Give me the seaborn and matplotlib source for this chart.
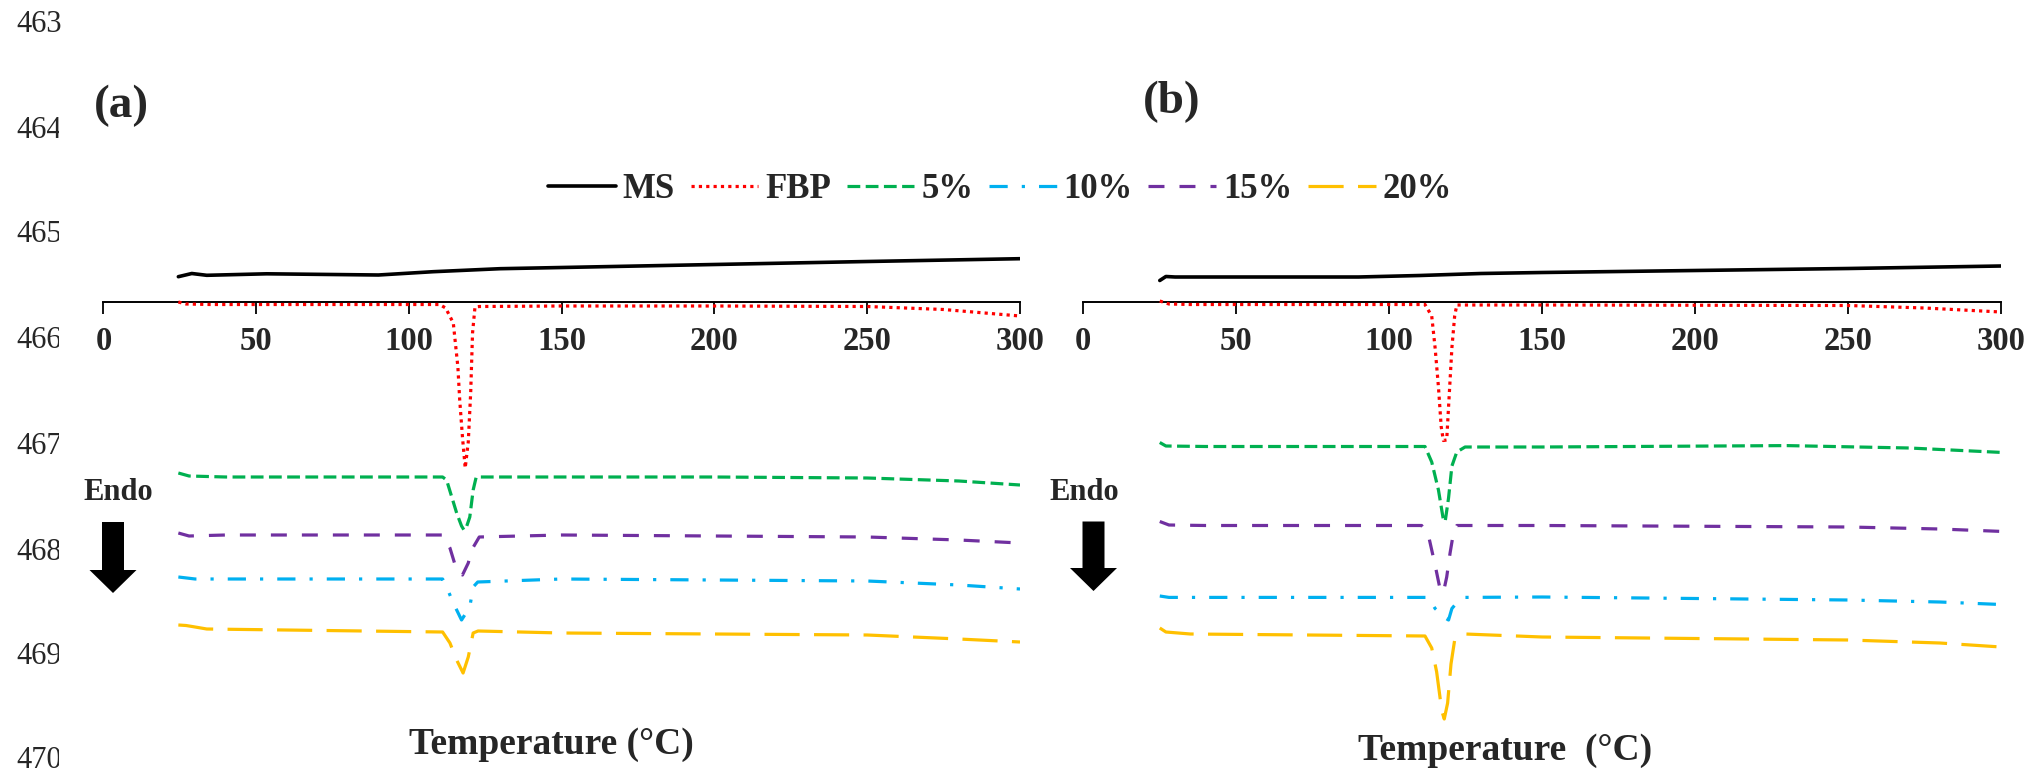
import matplotlib
matplotlib.use("Agg")
import matplotlib.pyplot as plt
import seaborn as sns
from matplotlib.patches import FancyArrow

sns.set_theme(style="white")
plt.rcParams['font.family'] = ['Liberation Serif', 'DejaVu Serif']

# ---------------- data (heat flow, arbitrary offset units) ----------------
SERIES = ["MS", "FBP", "5%", "10%", "15%", "20%"]
COLORS = ["#000000", "#FF0000", "#00B050", "#00B0F0", "#7030A0", "#FFC000"]
XTICKS = [0, 50, 100, 150, 200, 250, 300]
LINE_NUMBERS = ["463", "464", "465", "466", "467", "468", "469", "470"]

# Panel (a)
A_MS_T = [24.5, 28.9, 33.8, 53.4, 90, 107.9, 129.8, 150, 200, 250, 300]
A_MS_V = [0.253, 0.285, 0.267, 0.282, 0.27, 0.303, 0.333, 0.345, 0.375, 0.405, 0.433]
A_FBP_T = [24.5, 27, 35, 60, 100, 110, 112, 114.5, 116, 116.6, 117.5, 118.4,
           119.4, 120.2, 120.8, 121.6, 123, 150, 200, 250, 275, 300]
A_FBP_V = [0.0, -0.02, -0.025, -0.025, -0.025, -0.025, -0.06, -0.21, -0.65, -0.98,
           -1.35, -1.66, -1.4, -0.9, -0.31, -0.05, -0.045, -0.04, -0.04, -0.045, -0.075, -0.14]
A_5_T = [24.5, 28, 40, 111, 112.3, 115.6, 117.2, 118.0, 118.8, 119.9, 121, 122, 125,
         200, 250, 280, 300]
A_5_V = [-1.71, -1.74, -1.75, -1.75, -1.78, -2.11, -2.24, -2.28, -2.25, -2.15, -1.88,
         -1.75, -1.75, -1.75, -1.76, -1.79, -1.83]
A_15_T = [24.5, 28, 40, 111, 113.4, 115.6, 117.5, 119.4, 120.5, 123, 150, 250, 280, 300]
A_15_V = [-2.31, -2.34, -2.33, -2.33, -2.46, -2.68, -2.73, -2.61, -2.48, -2.35, -2.33,
          -2.35, -2.38, -2.41]
A_10_T = [24.5, 30, 111, 112.3, 114.5, 117.2, 119.9, 121, 122.5, 150, 250, 280, 300]
A_10_V = [-2.75, -2.77, -2.77, -2.85, -3.01, -3.18, -3.05, -2.85, -2.80, -2.77, -2.79,
          -2.83, -2.87]
A_20_T = [24.5, 27, 29.4, 33.8, 111, 113.4, 115.6, 117.7, 119.4, 121, 122.6, 150, 250,
          280, 300]
A_20_V = [-3.23, -3.235, -3.247, -3.27, -3.30, -3.41, -3.58, -3.71, -3.55, -3.31, -3.29,
          -3.31, -3.33, -3.37, -3.40]

# Panel (b)
B_MS_T = [25, 27, 30, 50, 90, 110, 130, 150, 200, 250, 300]
B_MS_V = [0.215, 0.255, 0.25, 0.25, 0.25, 0.265, 0.285, 0.295, 0.315, 0.335, 0.36]
B_FBP_T = [25, 28, 35, 111.7, 113.9, 115, 116.1, 117, 117.7, 118.8, 119.4, 120.5,
           121.4, 122.1, 150, 250, 275, 300]
B_FBP_V = [0.01, -0.02, -0.025, -0.025, -0.14, -0.456, -0.85, -1.247, -1.385, -1.38,
           -1.05, -0.456, -0.14, -0.03, -0.03, -0.035, -0.06, -0.10]
B_5_T = [25, 27, 40, 111.7, 113.9, 116.1, 117.7, 118.3, 119.4, 120.5, 122.1, 124.8,
         150, 230, 270, 300]
B_5_V = [-1.405, -1.44, -1.445, -1.445, -1.60, -1.88, -2.176, -2.195, -1.96, -1.64,
         -1.50, -1.45, -1.45, -1.436, -1.46, -1.504]
B_15_T = [25, 28, 40, 110.6, 112.8, 115, 116.6, 117.7, 118.8, 119.9, 121, 122.1, 150,
          250, 280, 300]
B_15_V = [-2.195, -2.23, -2.235, -2.235, -2.33, -2.63, -2.867, -2.907, -2.75, -2.51,
          -2.31, -2.235, -2.235, -2.25, -2.27, -2.294]
B_10_T = [25, 28, 112.8, 115, 118.3, 119.4, 120.5, 122.7, 124.8, 150, 250, 280, 300]
B_10_V = [-2.94, -2.954, -2.954, -3.065, -3.16, -3.18, -3.065, -2.986, -2.954, -2.95,
          -2.98, -3.00, -3.025]
B_20_T = [25, 27, 35, 111.7, 113.9, 115.5, 117.2, 118, 119.1, 120.2, 121.4, 124.8, 150,
          250, 280, 300]
B_20_V = [-3.26, -3.30, -3.32, -3.34, -3.46, -3.697, -4.09, -4.17, -4.01, -3.62, -3.38,
          -3.32, -3.35, -3.38, -3.41, -3.45]

PANEL_A = [(A_MS_T, A_MS_V), (A_FBP_T, A_FBP_V), (A_5_T, A_5_V),
           (A_10_T, A_10_V), (A_15_T, A_15_V), (A_20_T, A_20_V)]
PANEL_B = [(B_MS_T, B_MS_V), (B_FBP_T, B_FBP_V), (B_5_T, B_5_V),
           (B_10_T, B_10_V), (B_15_T, B_15_V), (B_20_T, B_20_V)]

# ---------------- styling ----------------
W, H = 2031, 772
LW = 2.3
STYLES = ["-", (0, (1, 1.3)), (0, (4, 1.7)), (0, (5.7, 4.4, 1, 4.4)),
          (0, (5, 4.7)), (0, (11, 4.5))]
LWS = [2.6, LW, LW, LW, LW, LW]

fig = plt.figure(figsize=(W / 100, H / 100), dpi=100)
fig.patch.set_facecolor("white")

def px_ax(x0, x1, y0, y1):
    return fig.add_axes([x0 / W, 1 - y1 / H, (x1 - x0) / W, (y1 - y0) / H])

Y_TOP_PX, Y_BOT_PX, AXIS_PX = 250, 730, 302
ylim = (-(Y_BOT_PX - AXIS_PX) / 100, -(Y_TOP_PX - AXIS_PX) / 100)

axes = [px_ax(103.5, 1020, Y_TOP_PX, Y_BOT_PX), px_ax(1083.3, 2001, Y_TOP_PX, Y_BOT_PX)]
for ax, panel in zip(axes, [PANEL_A, PANEL_B]):
    for (t, v), name, col, ls, lw in zip(panel, SERIES, COLORS, STYLES, LWS):
        sns.lineplot(x=t, y=v, ax=ax, color=col, linestyle=ls, linewidth=lw,
                     label=name, sort=False, estimator=None)
    if ax.get_legend() is not None:
        ax.get_legend().remove()
    ax.set_xlim(0, 300)
    ax.set_ylim(*ylim)
    ax.set_facecolor("none")
    for s in ["left", "right", "top"]:
        ax.spines[s].set_visible(False)
    ax.spines["bottom"].set_position(("data", 0))
    ax.spines["bottom"].set_color("black")
    ax.spines["bottom"].set_linewidth(1.4)
    ax.spines["bottom"].set_zorder(0.5)
    ax.set_xticks(XTICKS)
    ax.set_xticklabels([str(x) for x in XTICKS], fontweight="bold", fontsize=23.5)
    ax.tick_params(axis="x", direction="out", length=8.5, width=1.3, color="black",
                   pad=8.5, bottom=True)
    ax.set_yticks([])
    ax.set_xlabel("")
    ax.set_ylabel("")
    ax.grid(False)

# legend
handles = axes[0].get_lines()[:6]
fig.legend(handles, SERIES, loc="center", bbox_to_anchor=(1000 / W, 1 - 190 / H),
           ncol=6, frameon=False, handlelength=1.95, handletextpad=0.2,
           columnspacing=0.45, prop={"family": "Liberation Serif", "weight": "bold",
                                     "size": 25})

def ftext(x, y, s, **kw):
    fig.text(x / W, 1 - y / H, s, ha="center", va="center", **kw)

ftext(121, 106, "(a)", fontsize=34, fontweight="bold")
ftext(1172, 102, "(b)", fontsize=34, fontweight="bold")
ftext(118, 492, "Endo", fontsize=22, fontweight="bold")
ftext(1084, 492, "Endo", fontsize=22, fontweight="bold")
ftext(551, 745, "Temperature (°C)", fontsize=27, fontweight="bold")
ftext(1505, 751, "Temperature  (°C)", fontsize=27, fontweight="bold")

# Endo arrows
for cx, top, tip in [(113, 522, 593), (1093.5, 521.5, 591)]:
    arr = FancyArrow(cx / 100, (H - top) / 100, 0, -(tip - top) / 100,
                     width=0.22, head_width=0.47, head_length=0.23,
                     length_includes_head=True, transform=fig.dpi_scale_trans,
                     color="black", linewidth=0)
    fig.add_artist(arr)

# manuscript line numbers (clipped at the right like the screenshot)
lax = px_ax(0, 59.5, 0, H)
lax.set_axis_off()
LN_Y = [25, 130, 235, 340, 447, 552, 657, 760]
for i, (lab, y) in enumerate(zip(LINE_NUMBERS, LN_Y)):
    if i == 0:
        fig.text(16 / W, 1 - y / H, lab, ha="left", va="center", fontsize=22)
    else:
        lax.text(16 / W, 1 - y / H, lab, ha="left", va="center", fontsize=22,
                 transform=fig.transFigure, clip_on=True)

fig.savefig("out.png", dpi=100, facecolor="white")
